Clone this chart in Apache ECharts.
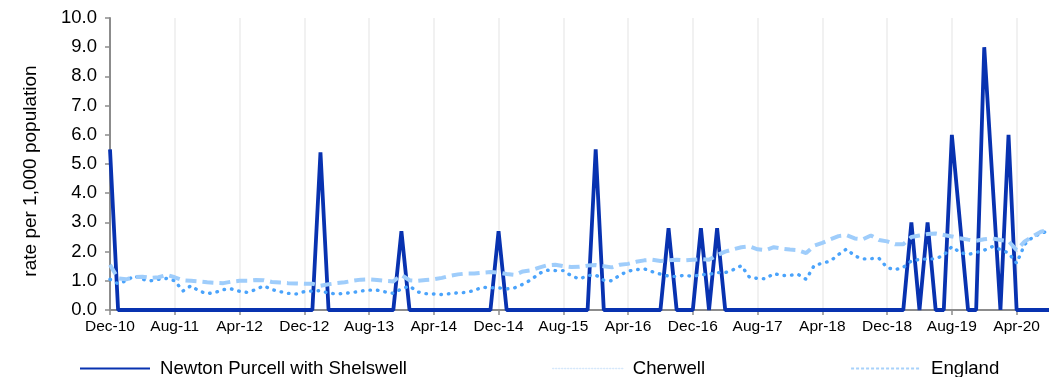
<!DOCTYPE html>
<html>
<head>
<meta charset="utf-8">
<script src="https://cdn.jsdelivr.net/npm/echarts@6/dist/echarts.min.js"></script>
<style>
html,body{margin:0;padding:0;background:#fff;}
#chart{width:1049px;height:377px;}
</style>
</head>
<body>
<div id="chart"></div>
<script>
const months = [
  'Dec-10',
  'Jan-11','Feb-11','Mar-11','Apr-11','May-11','Jun-11','Jul-11','Aug-11','Sep-11','Oct-11','Nov-11','Dec-11',
  'Jan-12','Feb-12','Mar-12','Apr-12','May-12','Jun-12','Jul-12','Aug-12','Sep-12','Oct-12','Nov-12','Dec-12',
  'Jan-13','Feb-13','Mar-13','Apr-13','May-13','Jun-13','Jul-13','Aug-13','Sep-13','Oct-13','Nov-13','Dec-13',
  'Jan-14','Feb-14','Mar-14','Apr-14','May-14','Jun-14','Jul-14','Aug-14','Sep-14','Oct-14','Nov-14','Dec-14',
  'Jan-15','Feb-15','Mar-15','Apr-15','May-15','Jun-15','Jul-15','Aug-15','Sep-15','Oct-15','Nov-15','Dec-15',
  'Jan-16','Feb-16','Mar-16','Apr-16','May-16','Jun-16','Jul-16','Aug-16','Sep-16','Oct-16','Nov-16','Dec-16',
  'Jan-17','Feb-17','Mar-17','Apr-17','May-17','Jun-17','Jul-17','Aug-17','Sep-17','Oct-17','Nov-17','Dec-17',
  'Jan-18','Feb-18','Mar-18','Apr-18','May-18','Jun-18','Jul-18','Aug-18','Sep-18','Oct-18','Nov-18','Dec-18',
  'Jan-19','Feb-19','Mar-19','Apr-19','May-19','Jun-19','Jul-19','Aug-19','Sep-19','Oct-19','Nov-19','Dec-19',
  'Jan-20','Feb-20','Mar-20','Apr-20','May-20','Jun-20','Jul-20','Aug-20'
];

const newtonPurcell = [
  5.5,
  0,0,0,0,0,0,0,0,0,0,0,0,
  0,0,0,0,0,0,0,0,0,0,0,0,
  0,5.4,0,0,0,0,0,0,0,0,0,2.7,
  0,0,0,0,0,0,0,0,0,0,0,2.7,
  0,0,0,0,0,0,0,0,0,0,0,5.5,
  0,0,0,0,0,0,0,0,2.8,0,0,0,
  2.8,0,2.8,0,0,0,0,0,0,0,0,0,
  0,0,0,0,0,0,0,0,0,0,0,0,
  0,0,3.0,0,3.0,0,0,6.0,3.0,0,0,9.0,
  4.5,0,6.0,0,0,0,0,0
];

const cherwell = [
  1.05,
  0.90,1.00,1.17,1.05,1.00,1.05,1.08,1.00,0.65,0.83,0.65,0.56,
  0.60,0.70,0.72,0.64,0.60,0.70,0.83,0.70,0.63,0.57,0.55,0.63,
  0.65,0.66,0.58,0.55,0.57,0.60,0.65,0.68,0.68,0.62,0.57,0.72,
  0.82,0.62,0.56,0.55,0.53,0.56,0.59,0.60,0.67,0.78,0.76,0.76,
  0.72,0.76,0.88,1.03,1.25,1.36,1.35,1.35,1.17,1.06,1.18,1.20,
  1.02,1.00,1.20,1.33,1.38,1.41,1.31,1.23,1.16,1.15,1.19,1.15,
  1.21,1.22,1.28,1.28,1.38,1.52,1.12,1.08,1.07,1.25,1.18,1.19,
  1.22,1.05,1.53,1.60,1.68,1.90,2.09,1.85,1.75,1.76,1.77,1.45,
  1.38,1.46,1.68,1.73,1.75,1.75,1.88,2.17,1.97,1.90,1.97,2.05,
  2.17,2.07,1.95,1.60,2.25,2.50,2.62,2.72
];

const england = [
  1.55,
  1.08,1.05,1.13,1.14,1.10,1.12,1.20,1.12,1.02,1.00,0.98,0.95,
  0.93,0.92,0.97,1.00,1.00,1.03,1.02,0.96,0.94,0.92,0.91,0.90,
  0.90,0.83,0.88,0.92,0.95,1.00,1.04,1.05,1.03,1.00,0.98,1.20,
  1.02,1.00,1.03,1.05,1.10,1.17,1.22,1.25,1.25,1.28,1.30,1.28,
  1.23,1.20,1.32,1.36,1.45,1.53,1.55,1.50,1.47,1.48,1.52,1.54,
  1.50,1.46,1.55,1.58,1.65,1.70,1.72,1.68,1.70,1.72,1.70,1.72,
  1.74,1.72,1.88,2.00,2.08,2.15,2.18,2.08,2.05,2.15,2.10,2.07,
  2.05,1.95,2.20,2.30,2.42,2.53,2.56,2.45,2.42,2.55,2.40,2.35,
  2.25,2.25,2.50,2.55,2.60,2.62,2.57,2.52,2.46,2.41,2.37,2.42,
  2.45,2.40,2.36,2.05,2.35,2.52,2.68,2.76
];

const seriesNames = ['Newton Purcell with Shelswell', 'Cherwell', 'England'];
const yAxisTitle = 'rate per 1,000 population';

const chart = echarts.init(document.getElementById('chart'), null, {renderer: 'canvas'});
const FONT = '"Liberation Sans", Arial, sans-serif';

chart.setOption({
  animation: false,
  backgroundColor: '#ffffff',
  grid: {left: 110, right: 0, top: 18, bottom: 67, containLabel: false},
  legend: {
    left: 74,
    top: 354,
    itemWidth: 70,
    itemHeight: 18,
    itemGap: 145,
    textStyle: {fontFamily: FONT, fontSize: 18.6, color: '#000', padding: [0, 0, 0, 5]},
    data: [
      {name: seriesNames[0], lineStyle: {color: '#0832b0', width: 2}, itemStyle: {opacity: 0}},
      {name: seriesNames[1], lineStyle: {color: '#d6e8fb', width: 1.5, type: [1, 2]}, itemStyle: {opacity: 0}},
      {name: seriesNames[2], lineStyle: {color: '#a8d2fb', width: 2, type: [3, 2]}, itemStyle: {opacity: 0}}
    ]
  },
  xAxis: {
    type: 'category',
    data: months,
    boundaryGap: false,
    axisLine: {show: true, lineStyle: {color: '#8c8c8c', width: 2}},
    axisTick: {show: true, interval: 7, length: 5, lineStyle: {color: '#8c8c8c', width: 1.5}},
    axisLabel: {interval: 7, fontFamily: FONT, fontSize: 15.5, color: '#000', margin: 9},
    splitLine: {show: true, interval: 7, lineStyle: {color: '#ececec', width: 1.5}}
  },
  yAxis: {
    type: 'value',
    min: 0,
    max: 10,
    interval: 1,
    name: yAxisTitle,
    nameLocation: 'middle',
    nameGap: 70,
    nameTextStyle: {fontFamily: FONT, fontSize: 19, color: '#000', padding: [0, 14, 0, 0]},
    axisLine: {show: true, lineStyle: {color: '#8c8c8c', width: 2}},
    axisTick: {show: true, length: 5, lineStyle: {color: '#8c8c8c', width: 1.5}},
    axisLabel: {fontFamily: FONT, fontSize: 18.5, color: '#000', margin: 13,
      formatter: v => v.toFixed(1)},
    splitLine: {show: false}
  },
  series: [
    {
      name: seriesNames[0], type: 'line', data: newtonPurcell, symbol: 'none',
      lineStyle: {color: '#0832b0', width: 3.8, join: 'bevel'},
      itemStyle: {color: '#0832b0'}, z: 3
    },
    {
      name: seriesNames[1], type: 'line', data: cherwell, symbol: 'none',
      lineStyle: {color: '#4aa3fb', width: 3.4, type: [0.5, 7], cap: 'round'},
      itemStyle: {color: '#4aa3fb'}, z: 4
    },
    {
      name: seriesNames[2], type: 'line', data: england, symbol: 'none',
      lineStyle: {color: '#9fcdfb', width: 4, type: [11, 6]},
      itemStyle: {color: '#9fcdfb'}, z: 5
    }
  ]
});
</script>
</body>
</html>
